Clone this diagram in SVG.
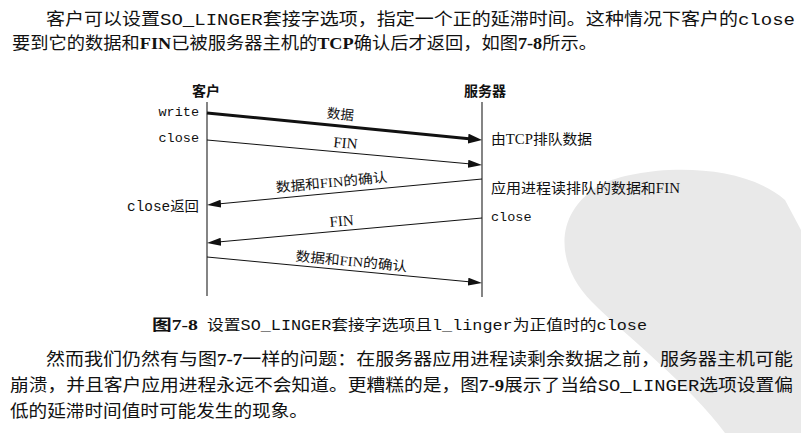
<svg xmlns="http://www.w3.org/2000/svg" width="801" height="433" viewBox="0 0 801 433">
<style>
.cjk{font-family:"Noto Sans CJK SC","Noto Sans",sans-serif;fill:#111}
.mono{font-family:"Liberation Mono",monospace}
.ser{font-family:"Liberation Serif",serif;font-weight:bold}
.serN{font-family:"Liberation Serif",serif;font-weight:normal}
.body{font-size:17px}
.lbl{font-size:13.5px}
.hdr{font-size:14px;font-weight:bold}
.life{stroke:#333;stroke-width:1.2;fill:none}
.msg{stroke:#111;stroke-width:1;fill:none;marker-end:url(#ah)}
.msgb{stroke:#111;stroke-width:3;fill:none;marker-end:url(#ahb)}
</style>
<defs>
<marker id="ah" markerUnits="userSpaceOnUse" viewBox="0 0 14 8" markerWidth="14" markerHeight="8" refX="6" refY="4" orient="auto">
<path d="M0,0 L14,4 L0,8 z" fill="#111"/>
</marker>
<marker id="ahb" markerUnits="userSpaceOnUse" viewBox="0 0 14 10" markerWidth="14" markerHeight="10" refX="6" refY="5" orient="auto">
<path d="M0,0 L14,5 L0,10 z" fill="#111"/>
</marker>
</defs>
<rect width="801" height="433" fill="#ffffff"/>
<path id="watermark" d="M600,185 C640,165 740,160 785,200 L801,230 L801,433 L725,433 C690,385 625,335 592,302 C556,266 552,214 600,185 Z" fill="#e9e9e9"/>

<g id="body-top" class="cjk body">
<text x="46" y="25" textLength="749" lengthAdjust="spacingAndGlyphs">客户可以设置<tspan class="mono">SO_LINGER</tspan>套接字选项，指定一个正的延滞时间。这种情况下客户的<tspan class="mono">close</tspan></text>
<text x="12" y="49" textLength="585" lengthAdjust="spacingAndGlyphs">要到它的数据和<tspan class="ser">FIN</tspan>已被服务器主机的<tspan class="ser">TCP</tspan>确认后才返回，如图<tspan class="ser">7-8</tspan>所示。</text>
</g>

<g id="client" class="cjk">
<text class="hdr" x="206" y="96" text-anchor="middle">客户</text>
<line class="life" x1="207" y1="102" x2="207" y2="296"/>
<text class="mono" font-size="13.5" x="199" y="116" text-anchor="end">write</text>
<text class="mono" font-size="13.5" x="199" y="142" text-anchor="end">close</text>
<text font-size="14" x="127" y="211" textLength="72" lengthAdjust="spacingAndGlyphs"><tspan class="mono">close</tspan>返回</text>
</g>

<g id="server" class="cjk">
<text class="hdr" x="485" y="96" text-anchor="middle">服务器</text>
<line class="life" x1="482" y1="102" x2="482" y2="297"/>
<text font-size="14" x="491" y="144" textLength="101" lengthAdjust="spacingAndGlyphs">由<tspan class="serN">TCP</tspan>排队数据</text>
<text font-size="14" x="491" y="193" textLength="189" lengthAdjust="spacingAndGlyphs">应用进程读排队的数据和<tspan class="serN">FIN</tspan></text>
<text class="mono" font-size="13.5" x="491" y="221">close</text>
</g>

<g id="connectors">
<line class="msgb" x1="207" y1="113" x2="474.04" y2="139.22"/>
<line class="msg" x1="207" y1="140" x2="474.03" y2="164.28"/>
<line class="msg" x1="482" y1="179" x2="214.96" y2="204.25"/>
<line class="msg" x1="482" y1="218" x2="214.97" y2="242.28"/>
<line class="msg" x1="207" y1="257" x2="474.04" y2="282.25"/>
<g class="cjk lbl">
<text x="340" y="119" text-anchor="middle" transform="rotate(5.6 340 119)">数据</text>
<text class="serN" font-size="15" x="345" y="148" text-anchor="middle" transform="rotate(5.2 345 148)">FIN</text>
<text x="332" y="187" text-anchor="middle" textLength="112" lengthAdjust="spacingAndGlyphs" transform="rotate(-5.4 332 187)">数据和<tspan class="serN">FIN</tspan>的确认</text>
<text class="serN" font-size="15" x="342" y="226" text-anchor="middle" transform="rotate(-5.2 342 226)">FIN</text>
<text x="351" y="266" text-anchor="middle" textLength="112" lengthAdjust="spacingAndGlyphs" transform="rotate(5.4 351 266)">数据和<tspan class="serN">FIN</tspan>的确认</text>
</g>
</g>

<g id="caption" class="cjk">
<text font-size="14.5" font-weight="bold" x="152" y="330" textLength="46" lengthAdjust="spacingAndGlyphs">图<tspan class="ser">7-8</tspan></text>
<text font-size="14.5" x="207" y="330" textLength="440" lengthAdjust="spacingAndGlyphs">设置<tspan class="mono">SO_LINGER</tspan>套接字选项且<tspan class="mono">l_linger</tspan>为正值时的<tspan class="mono">close</tspan></text>
</g>

<g id="body-bottom" class="cjk body">
<text x="46" y="365" textLength="747" lengthAdjust="spacingAndGlyphs">然而我们仍然有与图<tspan class="ser">7-7</tspan>一样的问题：在服务器应用进程读剩余数据之前，服务器主机可能</text>
<text x="10" y="391" textLength="783" lengthAdjust="spacingAndGlyphs">崩溃，并且客户应用进程永远不会知道。更糟糕的是，图<tspan class="ser">7-9</tspan>展示了当给<tspan class="mono">SO_LINGER</tspan>选项设置偏</text>
<text x="10" y="417" textLength="298" lengthAdjust="spacingAndGlyphs">低的延滞时间值时可能发生的现象。</text>
</g>
</svg>
